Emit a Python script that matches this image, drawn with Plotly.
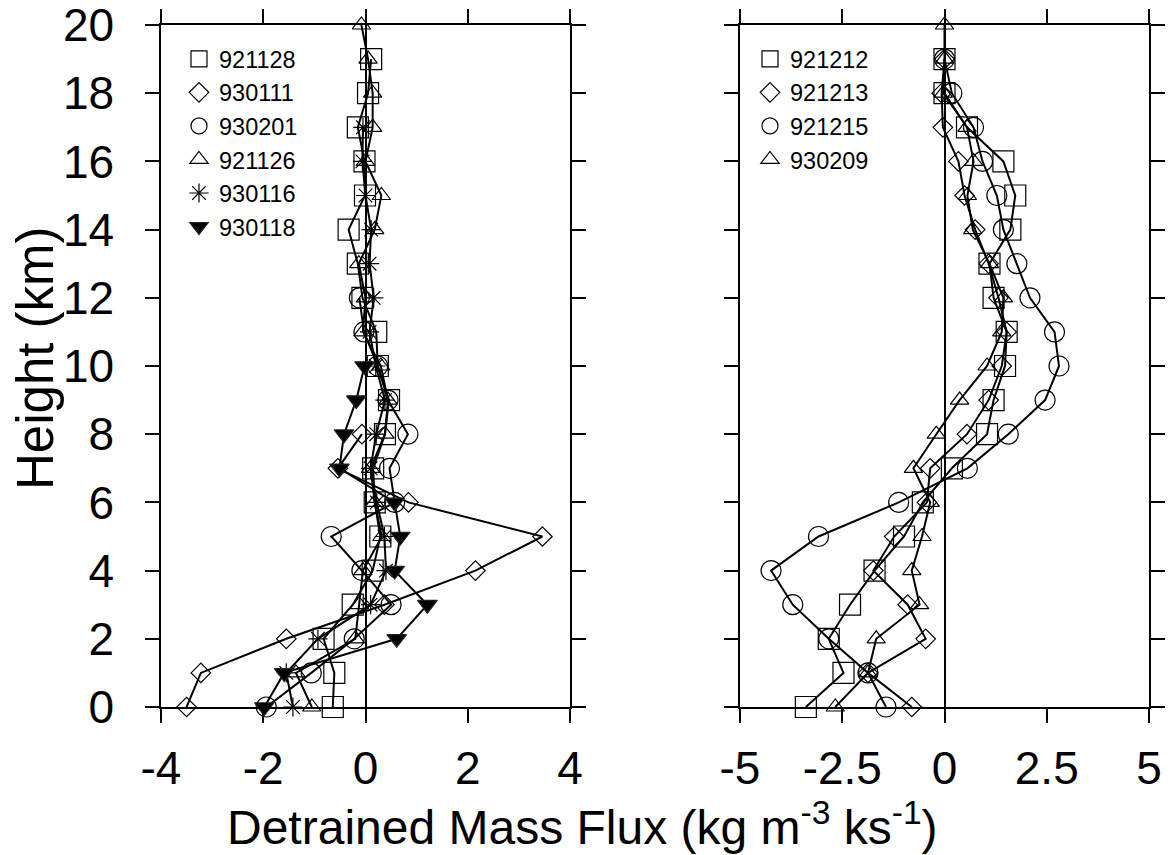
import plotly.graph_objects as go

# ---------------- data ----------------
heights = list(range(21))  # km

# Left panel
left_names = ["921128", "930111", "930201", "921126", "930116", "930118"]
s921128 = [-0.64, -0.61, -0.82, -0.25, 0.14, 0.29, 0.18, 0.15, 0.38, 0.46, 0.24, 0.21, -0.06, -0.15, -0.33, -0.01, -0.02, -0.15, 0.05, 0.11]
s930111 = [-3.50, -3.22, -1.55, 0.37, 2.15, 3.46, 0.84, -0.54, -0.07]
s930201 = [-1.94, -1.06, -0.22, 0.50, -0.07, -0.67, 0.57, 0.47, 0.83, 0.44, 0.24, -0.03, -0.12]
s921126 = [-1.05, -1.36, -0.20, -0.12, -0.05, 0.32, 0.18, 0.10, 0.38, 0.44, 0.30, -0.05, 0.0, -0.13, 0.18, 0.31, 0.0, 0.14, 0.14, 0.05, -0.08]
s930116 = [-1.42, -1.55, -0.93, 0.10, 0.40, 0.37, 0.22, 0.10, 0.21, 0.38, 0.20, 0.08, 0.16, 0.08, 0.11, 0.0, -0.06, -0.05]
s930118 = [-1.98, -1.59, 0.61, 1.21, 0.57, 0.68, 0.57, -0.51, -0.42, -0.18, -0.02]
left_series = [s921128, s930111, s930201, s921126, s930116, s930118]

# Right panel
right_names = ["921212", "921213", "921215", "930209"]
r921212 = [-3.39, -2.47, -2.83, -2.31, -1.71, -0.99, -0.53, 0.18, 1.04, 1.20, 1.48, 1.52, 1.20, 1.10, 1.61, 1.73, 1.44, 0.55, 0.0, 0.0]
r921213 = [-0.80, -1.87, -0.46, -0.90, -1.74, -1.23, -0.43, -0.35, 0.55, 1.08, 1.40, 1.52, 1.32, 1.08, 0.75, 0.49, 0.34, -0.04, -0.07, 0.0]
r921215 = [-1.43, -1.87, -2.83, -3.71, -4.24, -3.08, -1.12, 0.56, 1.56, 2.46, 2.80, 2.69, 2.09, 1.77, 1.44, 1.28, 0.93, 0.71, 0.18, 0.0]
r930209 = [-2.67, -1.87, -1.67, -0.61, -0.80, -0.55, -0.35, -0.76, -0.20, 0.37, 1.04, 1.40, 1.44, 1.10, 0.69, 0.56, 0.71, 0.55, -0.03, 0.0, 0.0]
right_series = [r921212, r921213, r921215, r930209]

left_xticks = [-4, -2, 0, 2, 4]
left_xticktext = ["-4", "-2", "0", "2", "4"]
right_xticks = [-5, -2.5, 0, 2.5, 5]
right_xticktext = ["-5", "-2.5", "0", "2.5", "5"]
yticks = [0, 2, 4, 6, 8, 10, 12, 14, 16, 18, 20]
yticktext = ["0", "2", "4", "6", "8", "10", "12", "14", "16", "18", "20"]

# ---------------- styles ----------------
FONT = "Liberation Sans, Arial, Helvetica, sans-serif"
left_styles = [
    dict(symbol="square-open", size=21),
    dict(symbol="diamond-open", size=15),
    dict(symbol="circle-open", size=20),
    dict(symbol="triangle-up-open", size=16),
    dict(symbol="asterisk-open", size=16),
    dict(symbol="triangle-down", size=17),
]
right_styles = [
    dict(symbol="square-open", size=21),
    dict(symbol="diamond-open", size=15),
    dict(symbol="circle-open", size=20),
    dict(symbol="triangle-up-open", size=16),
]

W, H = 1174, 855


def px(x):
    return x / W


def py(y):
    return 1 - y / H


fig = go.Figure()


def add_panel(names, series, styles, xa, ya, legend):
    for name, vals, st in zip(names, series, styles):
        mk = dict(symbol=st["symbol"], size=st["size"], color="black",
                  line=dict(color="#222222", width=1.2))
        fig.add_trace(go.Scatter(
            x=vals, y=heights[:len(vals)], mode="lines+markers",
            line=dict(color="black", width=2), marker=mk,
            xaxis=xa, yaxis=ya, showlegend=False, cliponaxis=False))
    for name, st in zip(names, styles):
        mk = dict(symbol=st["symbol"], size=st["size"], color="black",
                  line=dict(color="#222222", width=1.2))
        fig.add_trace(go.Scatter(
            x=[None], y=[None], mode="markers", marker=mk, name=name,
            xaxis=xa, yaxis=ya, showlegend=True, legend=legend))


add_panel(left_names, left_series, left_styles, "x", "y", "legend")
add_panel(right_names, right_series, right_styles, "x2", "y2", "legend2")

axis_common = dict(
    showgrid=False, showline=True, linecolor="black", linewidth=1.5,
    mirror="ticks", ticks="outside", ticklen=14, tickwidth=2, tickcolor="black",
    tickfont=dict(family=FONT, size=46, color="black"),
    automargin=False, ticklabeloverflow="allow",
)

fig.update_layout(
    width=W, height=H,
    margin=dict(l=0, r=0, t=0, b=0, autoexpand=False),
    paper_bgcolor="white", plot_bgcolor="white",
    xaxis=dict(domain=[px(161), px(570)], range=[-4, 4], tickvals=left_xticks,
               ticktext=left_xticktext,
               zeroline=True, zerolinecolor="black", zerolinewidth=2,
               ticklabelstandoff=6, anchor="y", **axis_common),
    yaxis=dict(domain=[py(707), py(25)], range=[0, 20], tickvals=yticks, ticktext=yticktext,
               zeroline=False, ticklabelstandoff=22, anchor="x", **axis_common),
    xaxis2=dict(domain=[px(740), px(1149)], range=[-5, 5], tickvals=right_xticks,
                ticktext=right_xticktext,
                zeroline=True, zerolinecolor="black", zerolinewidth=2,
                ticklabelstandoff=6, anchor="y2", **axis_common),
    yaxis2=dict(domain=[py(707), py(25)], range=[0, 20], tickvals=yticks,
                zeroline=False, showticklabels=False, anchor="x2", **axis_common),
    legend=dict(x=px(179), y=py(37), xanchor="left", yanchor="top",
                bgcolor="rgba(0,0,0,0)", borderwidth=0,
                font=dict(family=FONT, size=23.5, color="black"),
                tracegroupgap=0, itemclick=False),
    legend2=dict(x=px(750), y=py(37), xanchor="left", yanchor="top",
                 bgcolor="rgba(0,0,0,0)", borderwidth=0,
                 font=dict(family=FONT, size=23.5, color="black"),
                 tracegroupgap=0, itemclick=False),
    annotations=[
        dict(text="Detrained Mass Flux (kg m<sup>-3</sup> ks<sup>-1</sup>)",
             x=px(582), y=py(824), xref="paper", yref="paper",
             xanchor="center", yanchor="middle", showarrow=False,
             font=dict(family=FONT, size=48, color="black")),
        dict(text="Height (km)", x=px(35), y=py(358), xref="paper", yref="paper",
             xanchor="center", yanchor="middle", showarrow=False, textangle=-90,
             font=dict(family=FONT, size=51, color="black")),
    ],
)

# remove the default page margin so the 1174x855 figure fills the window exactly
fig.write_html("out.html",
               config={"displayModeBar": False},
               post_script="document.body.style.margin='0px';document.body.style.overflow='hidden';")
